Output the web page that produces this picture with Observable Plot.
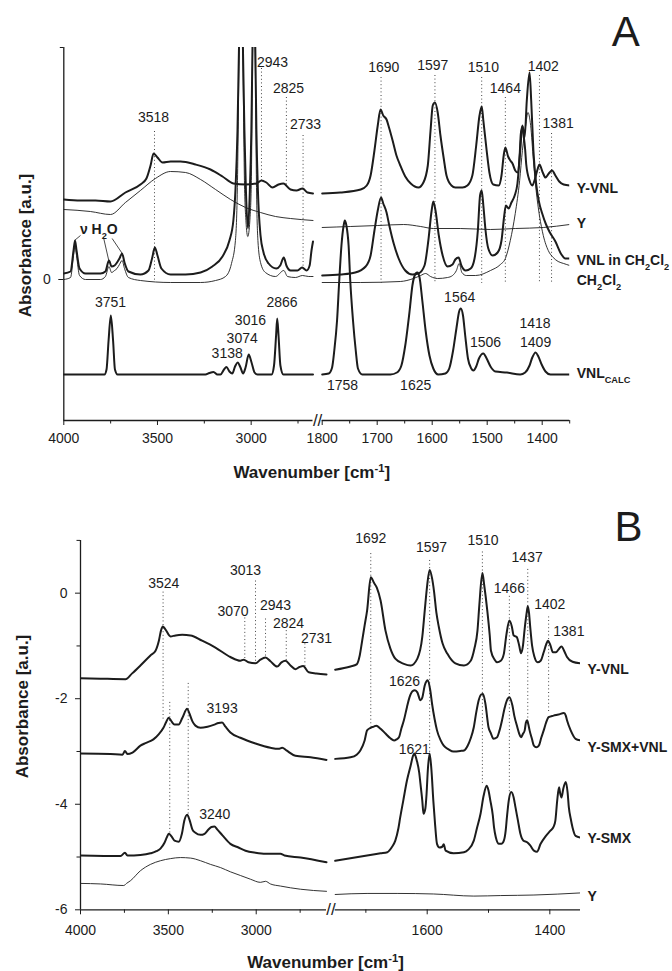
<!DOCTYPE html>
<html><head><meta charset="utf-8">
<script src="https://cdn.jsdelivr.net/npm/d3@7"></script>
<script src="https://cdn.jsdelivr.net/npm/@observablehq/plot@0.6"></script>
<style>
body{margin:0;background:#fff;}
#chart{width:672px;}
#chart svg{display:block;}
</style>
</head><body><div id="chart"></div>
<script>
// ---------------- Panel A data (wavenumber cm-1, absorbance a.u.) ----------------
const A_YVNL_L = [[4000,0.80],[3911,0.79],[3831,0.79],[3751,0.78],[3671,0.87],[3591,0.95],[3559,1.01],[3537,1.14],[3521,1.26],[3500,1.22],[3473,1.17],[3430,1.18],[3377,1.18],[3297,1.15],[3217,1.10],[3153,1.03],[3095,0.96],[3031,0.95],[2972,0.96],[2945,0.99],[2919,0.97],[2886,0.92],[2854,0.95],[2828,0.96],[2790,0.90],[2758,0.89],[2726,0.91],[2699,0.87],[2670,0.86]];
const A_YVNL_R = [[1800,0.86],[1767,0.87],[1730,0.90],[1719,0.94],[1712,1.04],[1705,1.29],[1699,1.54],[1694,1.70],[1689,1.64],[1683,1.60],[1678,1.51],[1672,1.39],[1665,1.24],[1658,1.14],[1649,1.03],[1639,0.96],[1625,0.92],[1616,0.97],[1608,1.14],[1603,1.49],[1599,1.74],[1595,1.77],[1590,1.67],[1585,1.44],[1579,1.21],[1574,1.04],[1565,0.94],[1558,0.92],[1545,0.92],[1536,0.94],[1527,1.04],[1520,1.34],[1514,1.64],[1510,1.73],[1507,1.59],[1501,1.29],[1496,1.07],[1489,0.95],[1479,0.94],[1474,1.04],[1470,1.24],[1467,1.32],[1462,1.23],[1458,1.19],[1454,1.16],[1449,1.09],[1445,1.07],[1441,1.24],[1439,1.45],[1436,1.53],[1434,1.45],[1431,1.30],[1429,1.15],[1423,0.99],[1418,0.94],[1414,0.99],[1408,1.11],[1405,1.15],[1399,1.07],[1394,1.02],[1388,1.06],[1382,1.09],[1376,1.04],[1369,0.98],[1361,0.95],[1350,0.94]];
const A_Y_L = [[4000,0.70],[3858,0.68],[3751,0.65],[3671,0.77],[3591,0.89],[3511,1.01],[3430,1.08],[3350,1.07],[3270,1.00],[3190,0.90],[3110,0.80],[3030,0.72],[2950,0.67],[2870,0.63],[2790,0.61],[2670,0.59]];
const A_Y_R = [[1800,0.52],[1749,0.53],[1699,0.54],[1652,0.55],[1621,0.53],[1598,0.51],[1549,0.51],[1494,0.50],[1449,0.51],[1398,0.52],[1350,0.55]];
const A_VNLCH_L = [[4000,0.06],[3964,0.08],[3948,0.29],[3940,0.39],[3932,0.29],[3916,0.11],[3884,0.06],[3804,0.06],[3778,0.08],[3759,0.19],[3745,0.13],[3729,0.14],[3716,0.17],[3703,0.21],[3689,0.26],[3676,0.17],[3655,0.08],[3591,0.05],[3548,0.09],[3529,0.21],[3514,0.32],[3500,0.24],[3479,0.11],[3430,0.05],[3350,0.05],[3270,0.07],[3207,0.13],[3153,0.23],[3116,0.39],[3095,0.59],[3084,0.89],[3073,1.49],[3065,2.32],[3054,3.2],[3044,2.32],[3036,1.49],[3028,0.89],[3017,0.51],[3007,0.89],[2999,1.49],[2993,2.32],[2986,3.2],[2978,2.32],[2972,1.49],[2964,0.89],[2950,0.44],[2934,0.27],[2907,0.16],[2866,0.11],[2845,0.14],[2826,0.22],[2812,0.14],[2790,0.09],[2753,0.09],[2728,0.12],[2704,0.09],[2688,0.14],[2678,0.29],[2670,0.38]];
const A_VNLCH_R = [[1800,0.04],[1767,0.05],[1740,0.07],[1721,0.13],[1712,0.24],[1705,0.49],[1699,0.69],[1693,0.82],[1689,0.76],[1683,0.67],[1678,0.54],[1670,0.36],[1661,0.21],[1649,0.09],[1636,0.05],[1625,0.06],[1614,0.14],[1607,0.39],[1601,0.69],[1598,0.78],[1594,0.69],[1588,0.44],[1581,0.24],[1572,0.13],[1563,0.15],[1558,0.20],[1552,0.22],[1547,0.14],[1539,0.09],[1530,0.11],[1523,0.21],[1517,0.49],[1513,0.84],[1510,0.89],[1507,0.74],[1503,0.49],[1498,0.31],[1490,0.24],[1481,0.27],[1474,0.39],[1469,0.64],[1466,0.74],[1461,0.71],[1456,0.77],[1450,0.84],[1445,0.96],[1440,1.29],[1436,1.54],[1432,1.42],[1428,1.79],[1423,2.07],[1420,1.79],[1416,1.29],[1411,0.96],[1406,0.78],[1400,0.66],[1393,0.55],[1386,0.47],[1376,0.38],[1365,0.25],[1358,0.21],[1350,0.21]];
const A_CH_L = [[4000,0.00],[3964,0.02],[3948,0.24],[3940,0.34],[3932,0.24],[3916,0.04],[3884,0.00],[3804,0.00],[3778,0.03],[3759,0.13],[3745,0.07],[3729,0.09],[3716,0.11],[3703,0.15],[3689,0.19],[3676,0.11],[3655,0.02],[3591,-0.01],[3430,-0.03],[3270,-0.03],[3190,-0.01],[3137,0.03],[3105,0.16],[3084,0.39],[3073,0.99],[3065,2.19],[3054,3.0],[3044,2.19],[3036,0.99],[3028,0.59],[3018,0.43],[3007,0.59],[2999,0.99],[2993,2.19],[2986,3.0],[2978,2.19],[2972,0.99],[2964,0.39],[2950,0.17],[2924,0.07],[2870,0.03],[2826,0.09],[2806,0.03],[2764,0.02],[2726,0.04],[2693,0.03],[2670,0.03]];
const A_CH_R = [[1800,-0.03],[1730,-0.03],[1658,-0.02],[1634,0.01],[1621,0.04],[1612,0.06],[1603,0.03],[1590,0.01],[1572,0.02],[1563,0.04],[1556,0.09],[1551,0.16],[1546,0.07],[1538,0.04],[1521,0.04],[1494,0.09],[1476,0.15],[1467,0.21],[1458,0.39],[1449,0.66],[1441,0.99],[1436,1.29],[1430,1.54],[1426,1.67],[1421,1.54],[1416,1.19],[1411,0.89],[1405,0.64],[1398,0.44],[1389,0.29],[1380,0.22],[1371,0.18],[1361,0.16],[1350,0.14]];
const A_CALC_L = [[4000,-0.95],[3783,-0.95],[3772,-0.90],[3761,-0.61],[3749,-0.36],[3737,-0.61],[3727,-0.90],[3713,-0.95],[3244,-0.95],[3223,-0.935],[3201,-0.925],[3180,-0.95],[3164,-0.95],[3145,-0.90],[3132,-0.875],[3116,-0.92],[3101,-0.94],[3086,-0.87],[3072,-0.83],[3057,-0.88],[3043,-0.94],[3030,-0.88],[3013,-0.75],[2998,-0.83],[2982,-0.93],[2966,-0.95],[2891,-0.95],[2878,-0.86],[2867,-0.56],[2861,-0.39],[2854,-0.56],[2844,-0.86],[2828,-0.95],[2670,-0.95]];
const A_CALC_R = [[1800,-0.95],[1788,-0.94],[1782,-0.88],[1778,-0.71],[1773,-0.41],[1769,-0.01],[1765,0.34],[1761,0.54],[1759,0.59],[1756,0.54],[1752,0.34],[1749,-0.01],[1744,-0.41],[1739,-0.71],[1735,-0.89],[1727,-0.95],[1676,-0.95],[1664,-0.93],[1656,-0.86],[1649,-0.66],[1641,-0.31],[1636,-0.06],[1630,0.06],[1627,0.07],[1623,0.02],[1618,-0.21],[1612,-0.51],[1605,-0.76],[1598,-0.89],[1589,-0.95],[1576,-0.94],[1569,-0.89],[1562,-0.71],[1556,-0.49],[1551,-0.32],[1548,-0.29],[1544,-0.36],[1540,-0.56],[1535,-0.79],[1529,-0.89],[1525,-0.91],[1520,-0.87],[1515,-0.79],[1507,-0.74],[1501,-0.79],[1494,-0.87],[1485,-0.92],[1464,-0.93],[1440,-0.95],[1431,-0.93],[1423,-0.86],[1418,-0.78],[1412,-0.73],[1407,-0.77],[1401,-0.85],[1394,-0.92],[1385,-0.95],[1350,-0.95]];

const A_peakLabels = [["3518",3521,1.62],["2943",2886,2.17],["2825",2801,1.91],["2733",2710,1.55],["1690",1688,2.12],["1597",1599,2.14],["1510",1507,2.12],["1464",1467,1.91],["1402",1398,2.13],["1381",1371,1.56],["3751",3751,-0.23],["2866",2835,-0.23],["3016",3004,-0.41],["3074",3048,-0.59],["3138",3128,-0.74],["1758",1763,-1.06],["1625",1630,-1.06],["1564",1550,-0.18],["1506",1503,-0.63],["1418",1413,-0.44],["1409",1412,-0.63]];
const A_dotted = [[3516,1.48,-0.03],[2945,2.11,0.99],[2812,1.82,0.94],[2723,1.44,0.09],[1693,2.02,-0.04],[1595,2.04,-0.04],[1510,2.02,-0.04],[1467,1.82,-0.04],[1405,2.04,-0.04],[1383,1.46,-0.04]];
const A_seriesLabels = [["Y-VNL",0.91],["Y",0.56],["VNL in CH<sub>2</sub>Cl<sub>2</sub>",0.19],["CH<sub>2</sub>Cl<sub>2</sub>",-0.01],["VNL<sub>CALC</sub>",-0.94]];
const A_water = [["ν H<sub>2</sub>O",3813,0.50]];
const A_waterLeaders = [[3911,0.44,3943,0.39],[3788,0.42,3760,0.19],[3742,0.41,3688,0.26]];
const A_xMajor = [4000,3500,3000,1800,1700,1600,1500,1400];
const A_xMinor = [3750,3250,2750,1750,1650,1550,1450,1350];
const A_yMajor = [0];
const A_yMinor = [2.32];

// ---------------- Panel B data ----------------
const B_YVNL_L = [[4000,-1.61],[3886,-1.62],[3744,-1.63],[3706,-1.52],[3659,-1.37],[3602,-1.18],[3573,-1.09],[3554,-0.90],[3542,-0.71],[3532,-0.63],[3516,-0.69],[3488,-0.82],[3459,-0.80],[3421,-0.79],[3374,-0.80],[3308,-0.90],[3232,-1.03],[3147,-1.21],[3090,-1.28],[3071,-1.26],[3044,-1.31],[3004,-1.33],[2976,-1.26],[2947,-1.22],[2919,-1.29],[2881,-1.39],[2856,-1.31],[2834,-1.28],[2805,-1.37],[2777,-1.44],[2754,-1.40],[2733,-1.38],[2701,-1.50],[2657,-1.52],[2600,-1.54]];
const B_YVNL_R = [[1750,-1.45],[1725,-1.39],[1715,-1.35],[1710,-1.18],[1706,-0.90],[1702,-0.61],[1698,-0.33],[1692,0.30],[1687,0.20],[1682,0.10],[1676,-0.14],[1668,-0.71],[1660,-1.05],[1652,-1.24],[1638,-1.34],[1627,-1.37],[1616,-1.24],[1608,-0.83],[1604,-0.33],[1600,0.15],[1596,0.44],[1592,0.28],[1589,0.05],[1585,-0.37],[1581,-0.64],[1575,-0.95],[1567,-1.15],[1554,-1.33],[1540,-1.37],[1529,-1.28],[1523,-1.05],[1518,-0.71],[1515,-0.23],[1510,0.38],[1507,0.15],[1502,-0.33],[1498,-0.80],[1496,-1.09],[1490,-1.26],[1486,-1.31],[1480,-1.28],[1475,-1.15],[1471,-0.80],[1466,-0.52],[1462,-0.63],[1459,-0.80],[1454,-0.83],[1450,-0.99],[1447,-1.14],[1444,-1.01],[1441,-0.67],[1438,-0.39],[1436,-0.25],[1434,-0.37],[1432,-0.64],[1429,-0.99],[1425,-1.21],[1420,-1.31],[1415,-1.28],[1410,-1.12],[1406,-0.97],[1403,-0.90],[1399,-0.99],[1395,-1.12],[1390,-1.12],[1386,-1.07],[1381,-1.01],[1376,-1.11],[1372,-1.21],[1363,-1.30],[1350,-1.33]];
const B_SMXVNL_L = [[4000,-3.04],[3829,-3.05],[3761,-3.06],[3747,-2.99],[3733,-3.05],[3704,-3.02],[3659,-2.89],[3630,-2.84],[3585,-2.77],[3554,-2.67],[3528,-2.55],[3511,-2.43],[3498,-2.36],[3482,-2.43],[3465,-2.49],[3441,-2.49],[3420,-2.36],[3393,-2.19],[3380,-2.28],[3363,-2.43],[3346,-2.51],[3317,-2.55],[3277,-2.53],[3238,-2.49],[3215,-2.46],[3194,-2.45],[3175,-2.53],[3147,-2.64],[3090,-2.74],[3004,-2.85],[2919,-2.93],[2873,-2.95],[2852,-2.93],[2828,-2.98],[2777,-3.08],[2691,-3.11],[2600,-3.16]];
const B_SMXVNL_R = [[1750,-3.14],[1725,-3.11],[1715,-3.06],[1709,-2.98],[1702,-2.79],[1698,-2.60],[1692,-2.55],[1687,-2.53],[1683,-2.51],[1676,-2.57],[1668,-2.66],[1660,-2.75],[1654,-2.79],[1650,-2.77],[1646,-2.73],[1642,-2.56],[1638,-2.41],[1633,-2.16],[1629,-1.98],[1624,-1.86],[1620,-1.84],[1616,-1.88],[1611,-2.03],[1608,-1.98],[1604,-1.75],[1599,-1.65],[1595,-1.84],[1592,-2.10],[1588,-2.38],[1584,-2.60],[1578,-2.79],[1573,-2.89],[1565,-2.96],[1557,-3.00],[1546,-2.99],[1540,-2.98],[1534,-2.89],[1529,-2.75],[1524,-2.54],[1520,-2.26],[1516,-2.03],[1512,-1.92],[1509,-1.91],[1505,-2.10],[1500,-2.54],[1496,-2.66],[1492,-2.76],[1486,-2.73],[1482,-2.60],[1478,-2.41],[1474,-2.19],[1470,-2.03],[1466,-1.97],[1461,-2.13],[1458,-2.32],[1453,-2.54],[1450,-2.66],[1447,-2.73],[1444,-2.67],[1441,-2.60],[1439,-2.45],[1437,-2.41],[1435,-2.49],[1433,-2.60],[1429,-2.77],[1426,-2.89],[1422,-2.92],[1418,-2.89],[1414,-2.74],[1410,-2.60],[1406,-2.45],[1402,-2.35],[1394,-2.32],[1386,-2.30],[1377,-2.27],[1374,-2.32],[1372,-2.41],[1366,-2.60],[1358,-2.76],[1350,-2.79]];
const B_SMX_L = [[4000,-4.97],[3772,-4.98],[3747,-4.92],[3733,-4.97],[3659,-4.96],[3602,-4.93],[3568,-4.89],[3545,-4.84],[3522,-4.73],[3508,-4.62],[3498,-4.56],[3482,-4.61],[3465,-4.69],[3441,-4.71],[3423,-4.56],[3409,-4.31],[3393,-4.20],[3380,-4.29],[3363,-4.48],[3346,-4.54],[3317,-4.58],[3294,-4.56],[3272,-4.48],[3255,-4.43],[3238,-4.42],[3221,-4.48],[3192,-4.59],[3147,-4.75],[3101,-4.82],[3061,-4.88],[3004,-4.92],[2947,-4.94],[2862,-4.94],[2839,-4.97],[2748,-5.01],[2600,-5.10]];
const B_SMX_R = [[1750,-5.07],[1698,-4.97],[1676,-4.93],[1665,-4.91],[1658,-4.82],[1652,-4.69],[1647,-4.46],[1644,-4.25],[1639,-3.93],[1633,-3.55],[1627,-3.27],[1623,-3.08],[1621,-3.04],[1617,-3.17],[1613,-3.40],[1611,-3.61],[1608,-3.93],[1606,-4.18],[1603,-4.08],[1601,-3.80],[1599,-3.36],[1596,-3.04],[1593,-3.36],[1590,-3.93],[1587,-4.40],[1584,-4.75],[1580,-4.82],[1576,-4.81],[1573,-4.76],[1570,-4.88],[1557,-4.93],[1540,-4.91],[1533,-4.86],[1524,-4.69],[1519,-4.46],[1513,-4.18],[1508,-3.84],[1503,-3.65],[1500,-3.74],[1497,-3.93],[1493,-4.21],[1491,-4.44],[1488,-4.63],[1483,-4.75],[1479,-4.75],[1475,-4.69],[1472,-4.50],[1470,-4.25],[1467,-3.93],[1463,-3.77],[1459,-3.87],[1456,-4.06],[1452,-4.31],[1448,-4.56],[1443,-4.69],[1437,-4.72],[1432,-4.78],[1426,-4.88],[1421,-4.90],[1415,-4.75],[1407,-4.61],[1399,-4.50],[1394,-4.43],[1391,-4.31],[1388,-3.93],[1385,-3.68],[1383,-3.80],[1381,-3.87],[1378,-3.70],[1374,-3.58],[1371,-3.78],[1369,-4.06],[1366,-4.27],[1363,-4.44],[1358,-4.60],[1350,-4.63]];
const B_Y_L = [[4000,-5.50],[3886,-5.51],[3754,-5.54],[3738,-5.50],[3716,-5.45],[3659,-5.26],[3602,-5.14],[3545,-5.07],[3488,-5.03],[3431,-5.01],[3374,-5.02],[3317,-5.07],[3260,-5.14],[3203,-5.20],[3147,-5.28],[3090,-5.35],[3033,-5.42],[2976,-5.48],[2947,-5.46],[2919,-5.51],[2862,-5.55],[2748,-5.61],[2600,-5.65]];
const B_Y_R = [[1750,-5.71],[1698,-5.69],[1649,-5.69],[1590,-5.70],[1524,-5.74],[1480,-5.73],[1426,-5.72],[1350,-5.68]];

const B_peakLabels = [["1692",1692,1.03],["1597",1593,0.86],["1510",1509,1.00],["1437",1437,0.67],["1466",1466,0.08],["1402",1400,-0.21],["1381",1369,-0.73],["1626",1637,-1.67],["1621",1621,-2.97],["3524",3526,0.19],["3013",3061,0.43],["3070",3132,-0.34],["2943",2890,-0.23],["2824",2816,-0.57],["2731",2657,-0.85],["3193",3194,-2.19],["3240",3236,-4.20]];
const B_dotted = [[3530,0.02,-2.41],[3492,-2.07,-4.56],[3387,-1.71,-4.22],[3065,-0.47,-1.24],[3004,0.23,-1.31],[2947,-0.49,-1.21],[2829,-0.71,-1.28],[2723,-0.96,-1.39],[1692,0.75,-2.53],[1596,0.62,-3.08],[1510,0.78,-3.61],[1466,-0.06,-3.77],[1436,0.45,-2.41],[1402,-0.45,-2.28]];
const B_seriesLabels = [["Y-VNL",-1.45],["Y-SMX+VNL",-2.92],["Y-SMX",-4.64],["Y",-5.75]];
const B_xMajor = [4000,3500,3000,1600,1400];
const B_xMinor = [3750,3250,2750,1700,1500];
const B_yMajor = [0,-2,-4,-6];
const B_yMinor = [1,-1,-3,-5];

// ---------------- drawing ----------------
const FONT = "'Liberation Sans', Arial, Helvetica, sans-serif";
const INK = "#1c1c1c";

function lineMark(list, width) {
  const rows = list.flatMap(([id, arr]) => arr.map(([w, v]) => ({id, w, v})));
  return Plot.line(rows, {x: "w", y: "v", z: "id", stroke: INK, strokeWidth: width,
    curve: "monotone-x", clip: true, strokeLinejoin: "round"});
}

function richText(svg) {
  svg.querySelectorAll("text").forEach(t => {
    const s = t.textContent;
    if (s.includes("<sub>") || s.includes("<sup>")) {
      t.innerHTML = s
        .replace(/<sub>(.*?)<\/sub>/g, '<tspan baseline-shift="sub" font-size="0.66em">$1</tspan>')
        .replace(/<sup>(.*?)<\/sup>/g, '<tspan baseline-shift="super" font-size="0.66em">$1</tspan>');
    }
  });
}

function panel(o) {
  const [x0, , , x3] = o.range;
  const svg = Plot.plot({
    width: 672, height: o.height,
    marginLeft: x0, marginRight: 672 - x3, marginTop: o.yRange[1], marginBottom: o.height - o.yRange[0],
    style: {fontFamily: FONT, fontSize: "14px", color: INK, background: "#fff", overflow: "visible"},
    x: {type: "linear", domain: o.xDomain, range: o.range},
    y: {type: "linear", domain: o.yDomain, range: o.yRange},
    marks: [
      Plot.ruleX(o.dotted, {x: d => d[0], y1: d => d[1], y2: d => d[2], stroke: "#444", strokeWidth: 1, strokeDasharray: "1,2.6"}),
      lineMark(o.thin, 0.9),
      lineMark(o.thick, 2),
      Plot.ruleX([o.xDomain[0]], {stroke: INK, strokeWidth: 1.3}),
      Plot.ruleY(o.axisSegs, {y: o.yDomain[0], x1: d => d[0], x2: d => d[1], stroke: INK, strokeWidth: 1.3}),
      Plot.text(["//"], {x: o.gapMid, y: o.yDomain[0], text: d => d, fontSize: 17, fill: INK}),
      Plot.axisX(o.xMajor, {tickSize: 5, tickPadding: o.xPad, label: null, fontSize: 14, tickFormat: d => String(d), stroke: INK}),
      Plot.axisX(o.xMinor, {tickSize: 3.5, label: null, tickFormat: () => "", stroke: INK}),
      Plot.axisY(o.yMajor, {tickSize: 5, tickPadding: 8, label: null, fontSize: 14, tickFormat: d => String(d), stroke: INK}),
      Plot.axisY(o.yMinor, {tickSize: 3.5, label: null, tickFormat: () => "", stroke: INK}),
      Plot.text(o.peaks, {x: d => d[1], y: d => d[2], text: d => d[0], fontSize: 14, fill: INK}),
      Plot.text(o.series, {x: o.xDomain[3], y: d => d[1], text: d => d[0], dx: 7, textAnchor: "start", fontWeight: "bold", fontSize: 14, fill: INK}),
      ...(o.extra || []),
      Plot.text(["Absorbance [a.u.]"], {frameAnchor: "left", text: d => d, rotate: -90, textAnchor: "middle", lineAnchor: "middle", dx: o.yTitle[0], dy: o.yTitle[1], fontWeight: "bold", fontSize: 17, fill: INK}),
      Plot.text(["Wavenumber [cm<sup>-1</sup>]"], {frameAnchor: "bottom", text: d => d, textAnchor: "middle", lineAnchor: "middle", dx: o.xTitle[0], dy: o.xTitle[1], fontWeight: "bold", fontSize: 17, fill: INK}),
      Plot.text([o.letter], {frameAnchor: "top-right", text: d => d, textAnchor: "middle", lineAnchor: "middle", dx: o.letterPos[0], dy: o.letterPos[1], fontSize: 42, fill: INK})
    ]
  });
  richText(svg);
  return svg;
}

const chart = document.getElementById("chart");

chart.appendChild(panel({
  height: 485,
  xDomain: [4000, 2670, 1800, 1350], range: [63.3, 312.5, 321.7, 569.2],
  yDomain: [-1.41, 2.32], yRange: [420, 47],
  axisSegs: [[4000, 2670], [1800, 1350]], gapMid: 2235,
  thick: [["yvnlL", A_YVNL_L], ["yvnlR", A_YVNL_R], ["vnlchL", A_VNLCH_L], ["vnlchR", A_VNLCH_R], ["calcL", A_CALC_L], ["calcR", A_CALC_R]],
  thin: [["yL", A_Y_L], ["yR", A_Y_R], ["chL", A_CH_L], ["chR", A_CH_R]],
  dotted: A_dotted, peaks: A_peakLabels, series: A_seriesLabels,
  xMajor: A_xMajor, xMinor: A_xMinor, yMajor: A_yMajor, yMinor: A_yMinor, xPad: 8,
  extra: [
    Plot.link(A_waterLeaders, {x1: d => d[0], y1: d => d[1], x2: d => d[2], y2: d => d[3], stroke: INK, strokeWidth: 0.8}),
    Plot.text(A_water, {x: d => d[1], y: d => d[2], text: d => d[0], fontWeight: "bold", fontSize: 14, fill: INK})
  ],
  yTitle: [-38, 11.5], xTitle: [-5, 52], letter: "A", letterPos: [56, -15]
}));

chart.appendChild(panel({
  height: 486,
  xDomain: [4000, 2600, 1750, 1350], range: [80, 326, 334.7, 580],
  yDomain: [-6, 1], yRange: [424.3, 54.9],
  axisSegs: [[4000, 2600], [1750, 1350]], gapMid: 2170,
  thick: [["yvnlL", B_YVNL_L], ["yvnlR", B_YVNL_R], ["svL", B_SMXVNL_L], ["svR", B_SMXVNL_R], ["sL", B_SMX_L], ["sR", B_SMX_R]],
  thin: [["yL", B_Y_L], ["yR", B_Y_R]],
  dotted: B_dotted, peaks: B_peakLabels, series: B_seriesLabels,
  xMajor: B_xMajor, xMinor: B_xMinor, yMajor: B_yMajor, yMinor: B_yMinor, xPad: 10,
  yTitle: [-58, -18.6], xTitle: [-5, 53], letter: "B", letterPos: [48, -13]
}));
</script>
</body></html>
